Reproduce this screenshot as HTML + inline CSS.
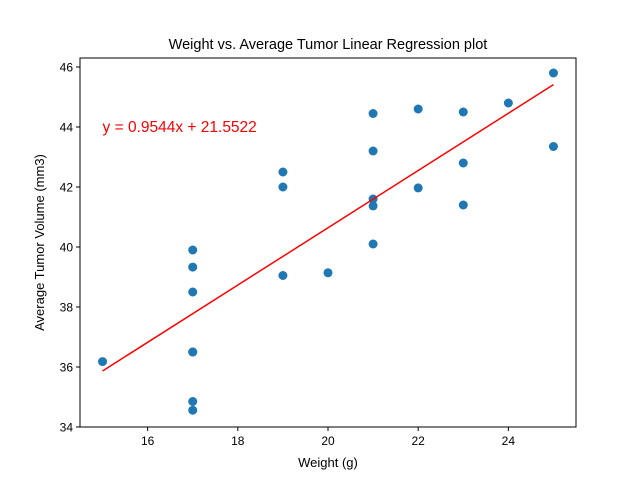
<!DOCTYPE html>
<html><head><meta charset="utf-8"><style>
body{margin:0;background:#fff;}
svg{display:block;font-family:"Liberation Sans","DejaVu Sans",sans-serif;}
</style></head><body>
<svg id="chart" width="640" height="480" viewBox="0 0 640 480"></svg>
<script>
const xTicks=[16,18,20,22,24];
const yTicks=[34,36,38,40,42,44,46];
const weights=[15,17,17,17,17,17,17,17,19,19,19,20,21,21,21,21,21,22,22,23,23,23,24,25,25];
const volumes=[36.18,39.9,39.33,38.5,36.5,36.5,34.85,34.56,42.5,42.0,39.05,39.14,44.45,43.2,41.6,41.37,40.1,44.6,41.97,44.5,42.8,41.4,44.8,45.8,43.35];
const slope=0.9544, intercept=21.5522;
const L=80,R=576,T=58,B=427, xmin=14.5,xmax=25.5,ymin=34,ymax=46.3;
const sx=v=>L+(v-xmin)/(xmax-xmin)*(R-L);
const sy=v=>B-(v-ymin)/(ymax-ymin)*(B-T);
const svg=document.getElementById('chart');
const NS='http://www.w3.org/2000/svg';
function mk(tag,attrs,parent){const e=document.createElementNS(NS,tag);for(const k in attrs)e.setAttribute(k,attrs[k]);(parent||svg).appendChild(e);return e;}
function txt(s,attrs){const e=mk('text',attrs);e.textContent=s;return e;}
const title=txt('Weight vs. Average Tumor Linear Regression plot',{x:328,y:49,'text-anchor':'middle','font-size':14.5});


xTicks.forEach(t=>{
  const l=mk('line',{x1:sx(t),x2:sx(t),y1:B,y2:B+4,stroke:'#000'});
  
  
  const tl=txt(t,{x:sx(t),y:B+18,'text-anchor':'middle','font-size':12});
  
  
});
yTicks.forEach(t=>{
  const l=mk('line',{x1:L-4,x2:L,y1:sy(t),y2:sy(t),stroke:'#000'});
  
  
  const tl=txt(t,{x:L-7,y:sy(t)+4.5,'text-anchor':'end','font-size':12});
  
  
});
const xt=txt('Weight (g)',{x:328,y:467,'text-anchor':'middle','font-size':13});


const yt=txt('Average Tumor Volume (mm3)',{x:0,y:0,'text-anchor':'middle','font-size':13,transform:`translate(44,${(T+B)/2}) rotate(-90)`});


weights.forEach((w,i)=>{
  const c=mk('circle',{cx:sx(w),cy:sy(volumes[i]),r:4.5,fill:'#1f77b4'});
  
  
});
const x0=Math.min(...weights),x1=Math.max(...weights);
const line=mk('line',{x1:sx(x0),y1:sy(slope*x0+intercept),x2:sx(x1),y2:sy(slope*x1+intercept),stroke:'#ff0000','stroke-width':1.5});


const eq=txt('y = 0.9544x + 21.5522',{x:sx(15),y:sy(44)+5,'font-size':15.5,fill:'#ff0000'});


const frame=mk('rect',{x:L,y:T,width:R-L,height:B-T,fill:'none',stroke:'#000','stroke-width':1});


</script>
</body></html>
